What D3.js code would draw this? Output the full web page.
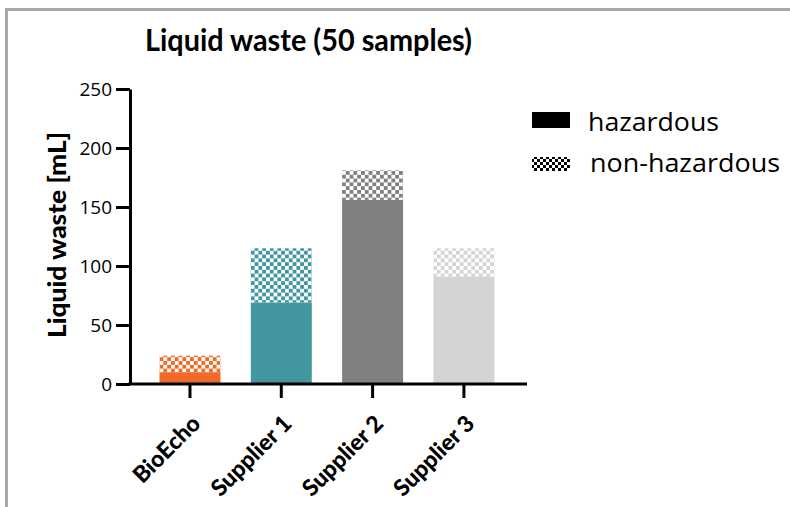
<!DOCTYPE html>
<html><head><meta charset="utf-8">
<script src="https://cdn.jsdelivr.net/npm/d3@7"></script>
<style>
html,body{margin:0;padding:0;background:#fff;}
svg{display:block;font-family:"Open Sans","Noto Sans",sans-serif;}
.bold{font-family:Lato,"Noto Sans",sans-serif;}
</style></head>
<body>
<svg id="chart" width="790" height="507"></svg>
<script>
const categories = ["BioEcho", "Supplier 1", "Supplier 2", "Supplier 3"];
const hazardous = [10, 69, 156, 91];
const nonHazardous = [14, 46, 25, 24];
const barColors = ["#EE6B29", "#4296A0", "#808080", "#D4D4D4"];
const yTicks = [0, 50, 100, 150, 200, 250];
const seriesNames = ["hazardous", "non-hazardous"];
const title = "Liquid waste (50 samples)";
const yLabel = "Liquid waste [mL]";

const svg = d3.select("#chart");
const defs = svg.append("defs");

// border
svg.append("rect").attr("x", 6.5).attr("y", 9.5).attr("width", 800).attr("height", 600)
  .attr("fill", "none").attr("stroke", "#a8a8a8").attr("stroke-width", 3);

function checker(id, color, cell) {
  const p = defs.append("pattern").attr("id", id).attr("patternUnits", "userSpaceOnUse")
    .attr("width", cell * 2).attr("height", cell * 2);
  p.append("rect").attr("width", cell * 2).attr("height", cell * 2).attr("fill", "#fff");
  p.append("rect").attr("width", cell).attr("height", cell).attr("fill", color);
  p.append("rect").attr("x", cell).attr("y", cell).attr("width", cell).attr("height", cell).attr("fill", color);
}
barColors.forEach((c, i) => checker("chk" + i, c, 3.8));
checker("chkLegend", "#000", 3);

const x = d3.scaleBand().domain(categories).range([130, 527])
  .paddingInner(0.332).paddingOuter(0.34).align(0.475);
const y = d3.scaleLinear().domain([0, 250]).range([384, 89]);

const data = categories.map((c, i) => ({ c, i, h: hazardous[i], n: nonHazardous[i] }));

// non-hazardous (stacked on top)
svg.append("g").selectAll("rect").data(data).join("rect")
  .attr("x", d => x(d.c)).attr("width", x.bandwidth())
  .attr("y", d => y(d.h + d.n)).attr("height", d => y(d.h) - y(d.h + d.n))
  .attr("fill", d => `url(#chk${d.i})`);
// hazardous
svg.append("g").selectAll("rect").data(data).join("rect")
  .attr("x", d => x(d.c)).attr("width", x.bandwidth())
  .attr("y", d => y(d.h)).attr("height", d => y(0) - y(d.h))
  .attr("fill", d => barColors[d.i]);

// y axis
const yAxis = svg.append("g").attr("transform", "translate(130,0)")
  .call(d3.axisLeft(y).tickValues(yTicks).tickSize(14).tickSizeOuter(0).tickPadding(4));
yAxis.selectAll("line,path").attr("stroke", "#000").attr("stroke-width", 3);
yAxis.selectAll("text").attr("font-size", 19).attr("fill", "#000")
  .attr("font-family", "'Open Sans',sans-serif");

// x axis
const xAxis = svg.append("g").attr("transform", "translate(0,384)")
  .call(d3.axisBottom(x).tickSize(14).tickSizeOuter(0).tickFormat(""));
xAxis.select("path").attr("d", "M128.5,0H527");
xAxis.selectAll("line,path").attr("stroke", "#000").attr("stroke-width", 3);
xAxis.selectAll(".tick").append("text").attr("class", "bold")
  .attr("transform", "translate(12,41) rotate(-45)")
  .attr("text-anchor", "end").attr("font-size", 23).attr("font-weight", 900)
  .attr("fill", "#000").text(d => d);

// title
svg.append("text").attr("class", "bold").attr("x", 145).attr("y", 51).attr("font-size", 30).attr("font-weight", "bold")
  .attr("textLength", 327).attr("lengthAdjust", "spacingAndGlyphs").text(title);

// y label
svg.append("text").attr("class", "bold").attr("transform", "translate(66,235) rotate(-90)").attr("text-anchor", "middle")
  .attr("font-size", 25).attr("font-weight", 900)
  .attr("textLength", 206).attr("lengthAdjust", "spacingAndGlyphs").text(yLabel);

// legend
const leg = svg.append("g");
leg.append("rect").attr("x", 532).attr("y", 112).attr("width", 38).attr("height", 16).attr("fill", "#000");
leg.append("rect").attr("x", 532).attr("y", 157).attr("width", 38).attr("height", 14).attr("fill", "url(#chkLegend)");
leg.append("text").attr("x", 588).attr("y", 131).attr("font-size", 25)
  .attr("textLength", 131).attr("lengthAdjust", "spacingAndGlyphs").text(seriesNames[0]);
leg.append("text").attr("x", 590).attr("y", 172).attr("font-size", 25)
  .attr("textLength", 190).attr("lengthAdjust", "spacingAndGlyphs").text(seriesNames[1]);
</script>
</body></html>
